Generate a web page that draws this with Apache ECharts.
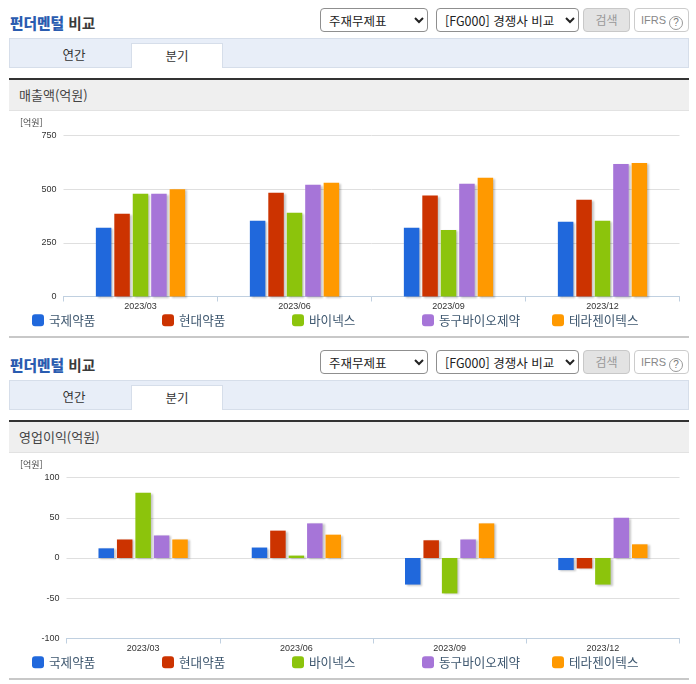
<!DOCTYPE html>
<html lang="ko">
<head>
<meta charset="utf-8">
<script src="https://cdn.jsdelivr.net/npm/echarts@6/dist/echarts.min.js"></script>
<style>
  html, body { margin: 0; padding: 0; background: #fff; }
  body { position: relative; width: 696px; height: 684px; overflow: hidden; font-family: "Noto Sans CJK KR", sans-serif; }
  .block { position: absolute; left: 0; width: 696px; height: 342px; }
  .block > * { position: absolute; box-sizing: border-box; }
  .title { left: 10px; top: 12px; font-size: 14.7px; line-height: 22px; font-weight: 700; color: #3a3a3a; }
  .title b { color: #2a5cb0; }
  select { height: 24px; top: 8px; font: 12.5px "Noto Sans CJK KR", sans-serif; color: #222; background: #fff; border: 1px solid #8f8f8f; border-radius: 4px; padding: 0 4px; }
  .sel1 { left: 320px; width: 108px; }
  .sel2 { left: 436px; width: 143px; }
  .btn { left: 583px; top: 8px; width: 47px; height: 24px; line-height: 21px; text-align: center; font-size: 12px; color: #999; background: #e3e3e3; border: 1px solid #c8c8c8; border-radius: 4px; }
  .ifrs { left: 634px; top: 8px; width: 55px; height: 24px; line-height: 22px; padding-left: 6px; font: 11px/22px "Liberation Sans", sans-serif; color: #888; background: #fff; border: 1px solid #ccc; border-radius: 4px; white-space: nowrap; }
  .ifrs i { display: inline-block; width: 12px; height: 12px; margin-left: 3px; border: 1px solid #999; border-radius: 50%; font: 10px/12px "Liberation Sans", sans-serif; text-align: center; color: #777; vertical-align: -2px; }
  .tabs { left: 9px; top: 38px; width: 680px; height: 30px; background: #e8eef8; border: 1px solid #d6deea; }
  .tab { top: 43px; height: 25px; width: 92px; text-align: center; font-size: 12.5px; line-height: 23px; color: #333; }
  .tab1 { left: 28px; }
  .tab2 { left: 131px; background: #fff; border: 1px solid #d6deea; border-bottom: 0; }
  .head { left: 9px; top: 78px; width: 680px; height: 33px; background: #efefef; border-top: 2px solid #333; border-bottom: 1px solid #e2e2e2; padding-left: 10px; font-size: 13px; line-height: 29px; color: #444; }
  .foot { left: 9px; top: 336px; width: 680px; height: 2px; background: #c8c8c8; }
  .chart { left: 0; top: 111px; width: 696px; height: 225px; }
</style>
</head>
<body>
<div id="app"></div>
<script>
const categories = ['2023/03', '2023/06', '2023/09', '2023/12']
const companies = ['국제약품', '현대약품', '바이넥스', '동구바이오제약', '테라젠이텍스']
const colors = ['#2068dc', '#cc3300', '#8cc40c', '#a675d8', '#ff9900']

// 매출액(억원)
const salesKukje = [320, 353, 320, 348]
const salesHyundai = [386, 483, 470, 451]
const salesBinex = [479, 390, 310, 353]
const salesDongkoo = [479, 521, 525, 617]
const salesTherag = [500, 530, 553, 622]

// 영업이익(억원)
const profitKukje = [12, 13, -33, -15]
const profitHyundai = [23, 34, 22, -13]
const profitBinex = [81, 3, -44, -33]
const profitDongkoo = [28, 43, 23, 50]
const profitTherag = [23, 29, 43, 17]

const salesSeries = [salesKukje, salesHyundai, salesBinex, salesDongkoo, salesTherag]
const profitSeries = [profitKukje, profitHyundai, profitBinex, profitDongkoo, profitTherag]

const legendLeft = [32, 162, 292, 422, 552]

const renderBlock = (top, headText) => {
  const block = document.createElement('div')
  block.className = 'block'
  block.style.top = top + 'px'
  block.innerHTML = `
    <div class="title"><b>펀더멘털</b> 비교</div>
    <select class="sel1"><option>주재무제표</option></select>
    <select class="sel2"><option>[FG000] 경쟁사 비교</option></select>
    <div class="btn">검색</div>
    <div class="ifrs">IFRS<i>?</i></div>
    <div class="tabs"></div>
    <div class="tab tab1">연간</div>
    <div class="tab tab2">분기</div>
    <div class="head">${headText}</div>
    <div class="chart"></div>
    <div class="foot"></div>`
  document.getElementById('app').appendChild(block)
  return block.querySelector('.chart')
}

const renderChart = (dom, conf) => {
  const chart = echarts.init(dom, null, { renderer: 'canvas' })
  chart.setOption({
    animation: false,
    color: colors,
    textStyle: { fontFamily: '"Liberation Sans", sans-serif' },
    title: {
      text: '[억원]',
      left: 15,
      top: 2,
      textStyle: { fontSize: 9, fontWeight: 'normal', color: '#444', fontFamily: '"Noto Sans CJK KR", sans-serif' }
    },
    legend: companies.map((name, i) => ({
      data: [name],
      left: legendLeft[i],
      top: conf.legendTop,
      padding: 0,
      itemWidth: 12,
      itemHeight: 12,
      icon: 'roundRect',
      selectedMode: false,
      textStyle: { fontSize: 12.6, color: '#3e576f', fontFamily: '"Noto Sans CJK KR", sans-serif' }
    })),
    grid: { left: conf.left, right: 16.5, top: conf.top, height: conf.height },
    xAxis: {
      type: 'category',
      data: categories,
      axisLine: { onZero: false, lineStyle: { color: '#c0d0e0' } },
      axisTick: { show: true, length: 5, alignWithLabel: false, lineStyle: { color: '#c0d0e0' } },
      axisLabel: { fontSize: 9, color: '#333', margin: 6, interval: 0 }
    },
    yAxis: {
      type: 'value',
      min: conf.min,
      max: conf.max,
      interval: conf.interval,
      axisLine: { show: false },
      axisTick: { show: false },
      axisLabel: { fontSize: 9, color: '#333', margin: 7 },
      splitLine: { lineStyle: { color: '#dfdfdf' } }
    },
    series: companies.map((name, i) => ({
      name,
      type: 'bar',
      data: conf.series[i],
      barWidth: 15.5,
      barGap: '19%',
      itemStyle: { color: colors[i], shadowColor: 'rgba(0,0,0,0.22)', shadowBlur: 2, shadowOffsetX: 2, shadowOffsetY: 1 }
    }))
  })
}

renderChart(renderBlock(0, '매출액(억원)'), {
  series: salesSeries, min: 0, max: 750, interval: 250,
  left: 63.5, top: 24.5, height: 161, legendTop: 203
})
renderChart(renderBlock(342, '영업이익(억원)'), {
  series: profitSeries, min: -100, max: 100, interval: 50,
  left: 66.5, top: 24.5, height: 161, legendTop: 203
})
</script>
</body>
</html>
